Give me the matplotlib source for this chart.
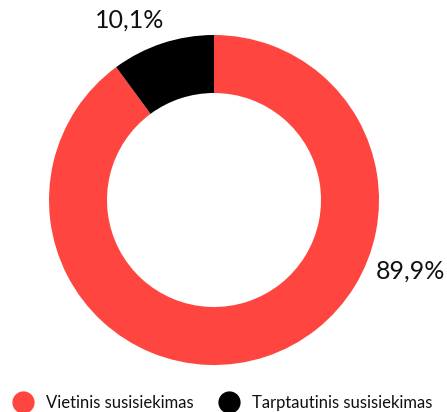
import matplotlib
matplotlib.use('Agg')
import matplotlib.pyplot as plt
from matplotlib.lines import Line2D

# data
LABELS = ['Vietinis susisiekimas', 'Tarptautinis susisiekimas']
SHARES = [89.9, 10.1]
SHARE_TEXT = ['89,9%', '10,1%']
COLORS = ['#FF4540', '#000000']

plt.rcParams['font.family'] = ['Lato', 'DejaVu Sans']

fig = plt.figure(figsize=(4.47, 4.12), dpi=100)
ax = fig.add_axes([0, 0, 1, 1])

CX, CY, R = 214, 212, 165
wedges, _ = ax.pie(SHARES, colors=COLORS, startangle=90, counterclock=False,
                   center=(CX, CY), radius=R, frame=True,
                   wedgeprops=dict(width=58, edgecolor='none'))
ax.set_xlim(0, 447)
ax.set_ylim(0, 412)
ax.set_aspect('equal')
ax.axis('off')

# percentage labels
ax.text(410, 141, SHARE_TEXT[0], fontsize=18, ha='center', va='center', color='#111111')
ax.text(130, 392, SHARE_TEXT[1], fontsize=18, ha='center', va='center', color='#111111')

handles = [Line2D([0], [0], marker='o', color='none', markerfacecolor=c,
                  markeredgecolor='none', markersize=16, label=l)
           for c, l in zip(COLORS, LABELS)]
fig.legend(handles=handles, loc='center', ncol=2, frameon=False,
           bbox_to_anchor=(0.50, 0.022), fontsize=12,
           handlelength=1.0, handletextpad=0.9, columnspacing=1.6,
           labelcolor='#111111')

fig.savefig('out.png', dpi=100, facecolor='white')
